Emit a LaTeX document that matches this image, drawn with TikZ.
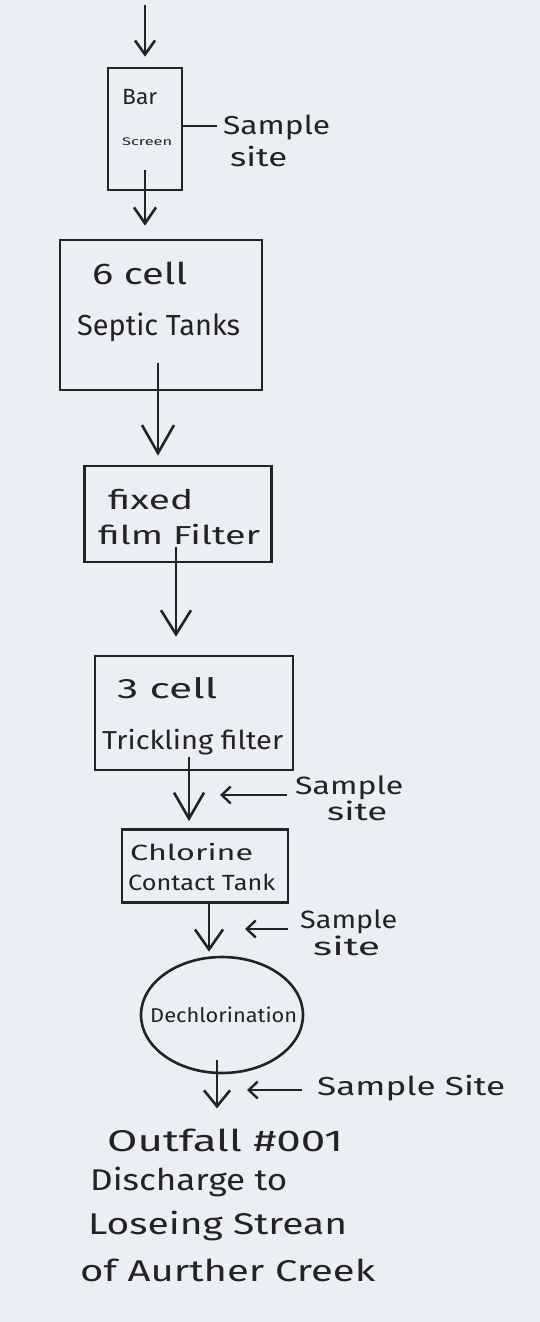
\documentclass[tikz,border=0pt]{standalone}
\usepackage{fontspec}
\setmainfont{Fira Sans}
\usepackage{graphicx}
\usetikzlibrary{arrows.meta,shapes.geometric,calc}
\definecolor{paper}{RGB}{236,238,245}
\definecolor{ink}{RGB}{34,34,40}
\newcommand{\fitw}[2]{\resizebox{#1pt}{\height}{#2}}
\newcommand{\fs}[1]{\fontsize{#1}{#1}\selectfont}
\begin{document}
\begin{tikzpicture}[x=1pt,y=-1pt,
  box/.style={draw=ink,line width=2.6pt,rectangle,inner sep=0pt},
  oval/.style={draw=ink,line width=2.6pt,ellipse,inner sep=0pt},
  lbl/.style={anchor=west,inner sep=0pt,text=ink},
  flow/.style={draw=ink,line width=2.6pt},
  tapline/.style={draw=ink,line width=2.4pt},
  samplearrow/.style={draw=ink,line width=2.4pt,-{Straight Barb[length=9pt,width=17pt]}}
]
\fill[paper] (0,0) rectangle (540,1322);
\useasboundingbox (0,0) rectangle (540,1322);

% process units
\node[box,minimum width=74pt,minimum height=122pt] (bar) at (145,129) {};
\node[box,minimum width=202pt,minimum height=150pt] (septic) at (161,315) {};
\node[box,minimum width=187pt,minimum height=96pt] (fixed) at (178,514) {};
\node[box,minimum width=198pt,minimum height=114pt] (trick) at (194,713) {};
\node[box,minimum width=166pt,minimum height=73pt] (chlor) at (205,866) {};
\node[oval,minimum width=162pt,minimum height=116pt] (dechl) at (222,1015) {};

% texts in units
\node[lbl,font=\fs{22}] (tbar) at (122,97) {\fitw{35}{Bar}};
\node[lbl,font=\fs{11}] (tscr) at (122,142) {\fitw{50}{Screen}};
\node[lbl,font=\fs{30}] (tsep1) at (92,273) {\fitw{95}{6 cell}};
\node[lbl,font=\fs{29}] (tsep2) at (77,327) {\fitw{163}{Septic Tanks}};
\node[lbl,font=\fs{27}] (tfix1) at (108,500) {\fitw{85}{fixed}};
\node[lbl,font=\fs{26}] (tfix2) at (98,535) {\fitw{162}{film Filter}};
\node[lbl,font=\fs{28}] (ttr1) at (117,688) {\fitw{100}{3 cell}};
\node[lbl,font=\fs{26}] (ttr2) at (102,742) {\fitw{181}{Trickling filter}};
\node[lbl,font=\fs{22}] (tch1) at (130,852) {\fitw{123}{Chlorine}};
\node[lbl,font=\fs{22}] (tch2) at (128,882) {\fitw{147}{Contact Tank}};
\node[lbl,font=\fs{20}] (tde) at (150,1015) {\fitw{147}{Dechlorination}};

% sample site labels
\node[lbl,font=\fs{26}] (sa1) at (223,128) {\fitw{107}{Sample}};
\node[lbl,font=\fs{26}] (si1) at (230,157) {\fitw{57}{site}};
\node[lbl,font=\fs{25}] (sa2) at (295,788) {\fitw{108}{Sample}};
\node[lbl,font=\fs{25}] (si2) at (327,811) {\fitw{60}{site}};
\node[lbl,font=\fs{25}] (sa3) at (300,922) {\fitw{97}{Sample}};
\node[lbl,font=\fs{25}] (si3) at (313,946) {\fitw{67}{site}};
\node[lbl,font=\fs{26}] (sa4) at (317,1088) {\fitw{188}{Sample Site}};

% outfall text
\node[lbl,font=\fs{30}] (out1) at (107,1140) {\fitw{236}{Outfall \#001}};
\node[lbl,font=\fs{30}] (out2) at (90,1182) {\fitw{197}{Discharge to}};
\node[lbl,font=\fs{30}] (out3) at (88,1226) {\fitw{259}{Loseing Strean}};
\node[lbl,font=\fs{30}] (out4) at (80,1270) {\fitw{295}{of Aurther Creek}};

% connector start points
\coordinate (src) at (145,5);
\coordinate (b1) at (145,170);
\coordinate (s1) at (158,363);
\coordinate (f1) at (176,547);
\coordinate (t1) at (189,757);
\coordinate (c1) at (209,903);
\coordinate (d1) at (217,1060);

% flow arrows
\draw[flow,-{Straight Barb[length=14pt,width=20pt]},shorten >=10pt] (src) -- (src |- bar.north);
\draw[flow,-{Straight Barb[length=16pt,width=22pt]},shorten >=13pt] (b1) -- (b1 |- septic.north);
\draw[flow,-{Straight Barb[length=28pt,width=32pt]},shorten >=9pt] (s1) -- (s1 |- fixed.north);
\draw[flow,-{Straight Barb[length=24pt,width=30pt]},shorten >=18pt] (f1) -- (f1 |- trick.north);
\draw[flow,-{Straight Barb[length=26pt,width=30pt]},shorten >=7pt] (t1) -- (t1 |- chlor.north);
\draw[flow,-{Straight Barb[length=20pt,width=28pt]},shorten >=4pt] (c1) -- (c1 |- dechl.north);
\draw[flow,-{Straight Barb[length=16pt,width=26pt]},shorten >=20pt] (d1) -- (d1 |- out1.north);

% sample site markers
\coordinate (bs) at (217,126);
\draw[tapline] (bs -| bar.east) -- (bs);
\coordinate (ss2) at (287,795);
\draw[samplearrow,shorten >=31pt] (ss2) -- (ss2 -| t1);
\coordinate (ss3) at (288,929);
\draw[samplearrow,shorten >=36pt] (ss3) -- (ss3 -| c1);
\coordinate (ss4) at (302,1090);
\draw[samplearrow,shorten >=30pt] (ss4) -- (ss4 -| d1);
\end{tikzpicture}
\end{document}
